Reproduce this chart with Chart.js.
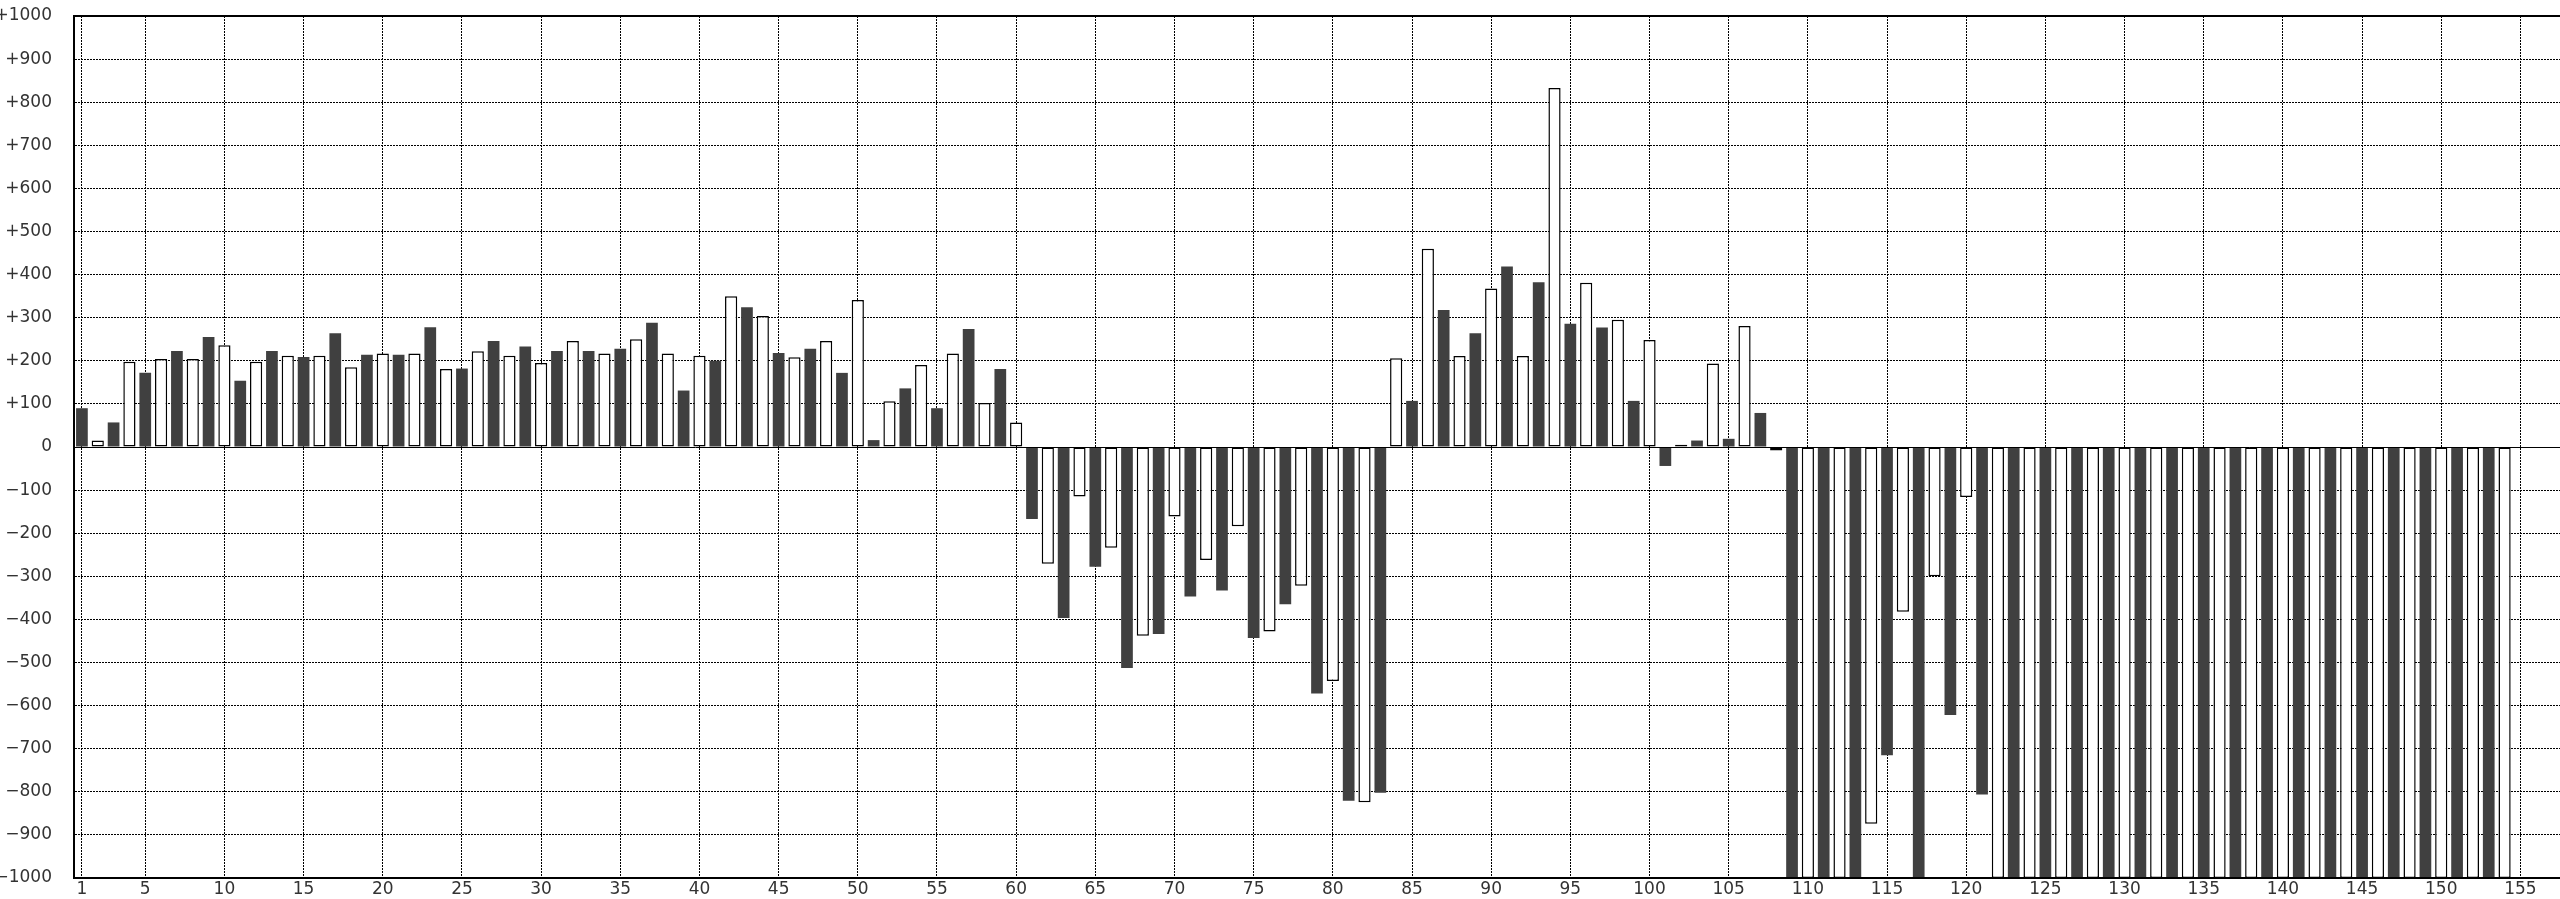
<!DOCTYPE html>
<html>
<head>
<meta charset="utf-8">
<title>bars</title>
<script src="https://cdn.jsdelivr.net/npm/chart.js@4/dist/chart.umd.min.js"></script>
<style>
  html, body { margin: 0; padding: 0; background: #fff; }
  canvas { display: block; }
</style>
</head>
<body>
<canvas id="c" width="2560" height="899"></canvas>
<script>
  // categories run 1..157, only some get a label
  var categoryCount = 157;
  var shownTicks = [1, 5, 10, 15, 20, 25, 30, 35, 40, 45, 50, 55, 60, 65, 70, 75, 80,
                    85, 90, 95, 100, 105, 110, 115, 120, 125, 130, 135, 140, 145, 150, 155];

  // dark bars sit on the odd categories 1, 3, 5 ... 153
  var darkValues = [
      90,   57,  172,  223,  255,  154,  223,  209,  264,  214,
     214,  278,  182,  246,  233,  223,  223,  228,  288,  131,
     200,  324,  218,  228,  172,   16,  136,   90,  274,  181,
    -167, -397, -278, -513, -434, -347, -333, -443, -365, -572,
    -821, -802,  107,  318,  264,  419,  382,  286,  277,  107,
     -44,   15,   19,   79, -1000, -1000, -1000, -715, -1000, -622,
    -806, -1000, -1000, -1000, -1000, -1000, -1000, -1000, -1000, -1000,
   -1000, -1000, -1000, -1000, -1000, -1000, -1000
  ];

  // white bars sit on the even categories 2, 4, 6 ... 154
  var lightValues = [
      15,  198,  204,  204,  236,  198,  212,  212,  185,  217,
     217,  181,  222,  212,  195,  246,  217,  250,  217,  212,
     350,  304,  208,  246,  341,  106,  190,  217,  102,   57,
    -271, -115, -234, -438, -161, -262, -184, -428, -322, -543,
    -824,  206,  460,  211,  368,  211,  833,  381,  295,  248,
       5,  194,  281,   -8, -1000, -1000, -874, -382, -300, -116,
   -1000, -1000, -1000, -1000, -1000, -1000, -1000, -1000, -1000, -1000,
   -1000, -1000, -1000, -1000, -1000, -1000, -1000
  ];

  var labels = [];
  var darkData = [];
  var lightData = [];
  for (var i = 0; i < categoryCount; i++) {
    var n = i + 1;
    labels.push(String(n));
    darkData.push(n % 2 === 1 && darkValues[(n - 1) / 2] !== undefined ? darkValues[(n - 1) / 2] : null);
    lightData.push(n % 2 === 0 && lightValues[n / 2 - 1] !== undefined ? lightValues[n / 2 - 1] : null);
  }

  function isShown(index) {
    return shownTicks.indexOf(index + 1) !== -1;
  }

  function fmtY(v) {
    if (v > 0) return '+' + v;
    if (v < 0) return '\u2212' + Math.abs(v);
    return '0';
  }

  // zero line + solid frame round the plot area
  var framePlugin = {
    id: 'frame',
    afterDatasetsDraw: function (chart) {
      var a = chart.chartArea, ctx = chart.ctx;
      var y0 = chart.scales.y.getPixelForValue(0);
      ctx.save();
      ctx.strokeStyle = '#000';
      ctx.lineWidth = 1;
      ctx.beginPath();
      ctx.moveTo(a.left, Math.round(y0) + 0.5);
      ctx.lineTo(a.right, Math.round(y0) + 0.5);
      ctx.stroke();
      ctx.lineWidth = 2;
      ctx.strokeRect(a.left, a.top, a.right - a.left + 4, a.bottom - a.top);
      ctx.restore();
    }
  };

  Chart.defaults.font.family = "'DejaVu Sans', sans-serif";
  Chart.defaults.font.size = 17;
  Chart.defaults.color = '#333';

  new Chart(document.getElementById('c').getContext('2d'), {
    type: 'bar',
    data: {
      labels: labels,
      datasets: [
        {
          label: 'dark',
          data: darkData,
          backgroundColor: '#404040',
          borderWidth: 0,
          grouped: false,
          barPercentage: 0.74,
          categoryPercentage: 1
        },
        {
          label: 'light',
          data: lightData,
          backgroundColor: '#ffffff',
          borderColor: '#000000',
          borderWidth: 1.5,
          borderSkipped: false,
          grouped: false,
          barPercentage: 0.77,
          categoryPercentage: 1
        }
      ]
    },
    options: {
      responsive: false,
      animation: false,
      layout: { padding: { top: 16, right: 0, bottom: 0, left: 0 } },
      plugins: { legend: { display: false }, tooltip: { enabled: false } },
      scales: {
        x: {
          offset: true,
          afterFit: function (s) { s.height = 21; },
          grid: {
            offset: false,
            drawTicks: false,
            color: function (c) { return c.tick && isShown(c.index) ? '#000' : 'rgba(0,0,0,0)'; },
            lineWidth: 1
          },
          border: { display: true, color: '#000', width: 2, dash: [2, 1] },
          ticks: {
            autoSkip: false,
            maxRotation: 0,
            padding: 1,
            callback: function (v, idx) { return isShown(idx) ? labels[idx] : ''; }
          }
        },
        y: {
          min: -1000,
          max: 1000,
          afterFit: function (s) { s.width = 74; },
          grid: {
            drawTicks: true,
            tickLength: 20,
            tickColor: 'rgba(0,0,0,0)',
            color: '#000',
            lineWidth: 1
          },
          border: { display: true, color: '#000', width: 2, dash: [2, 1] },
          ticks: {
            stepSize: 100,
            padding: 2,
            callback: fmtY
          }
        }
      }
    },
    plugins: [framePlugin]
  });
</script>
</body>
</html>
